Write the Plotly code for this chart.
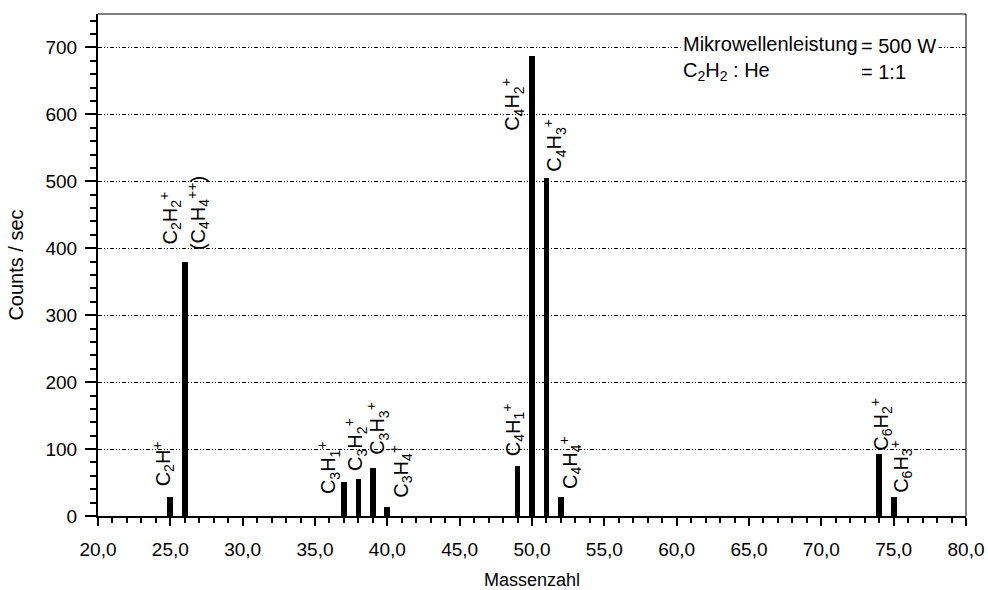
import plotly.graph_objects as go

# ---- data ----
masses = [25, 26, 37, 38, 39, 40, 49, 50, 51, 52, 74, 75]
counts = [29, 380, 51, 56, 72, 13, 74, 688, 505, 29, 92, 28]

label_text = [
    "C<sub>2</sub>H<sup>+</sup>",
    "C<sub>2</sub>H<sub>2</sub><sup>+</sup>",
    "(C<sub>4</sub>H<sub>4</sub><sup>++</sup>)",
    "C<sub>3</sub>H<sub>1</sub><sup>+</sup>",
    "C<sub>3</sub>H<sub>2</sub><sup>+</sup>",
    "C<sub>3</sub>H<sub>3</sub><sup>+</sup>",
    "C<sub>3</sub>H<sub>4</sub><sup>+</sup>",
    "C<sub>4</sub>H<sub>1</sub><sup>+</sup>",
    "C<sub>4</sub>H<sub>2</sub><sup>+</sup>",
    "C<sub>4</sub>H<sub>3</sub><sup>+</sup>",
    "C<sub>4</sub>H<sub>4</sub><sup>+</sup>",
    "C<sub>6</sub>H<sub>2</sub><sup>+</sup>",
    "C<sub>6</sub>H<sub>3</sub><sup>+</sup>",
]
label_x = [24.49, 24.98, 26.9, 35.9, 37.83, 39.35, 40.94, 48.68, 48.68, 51.58, 52.62, 74.18, 75.49]
label_y = [42, 402, 394, 29, 65, 89, 25, 87, 573, 512, 38, 95, 32]

info_left = "Mikrowellenleistung<br>C<sub>2</sub>H<sub>2</sub> : He"
info_right = "= 500 W<br>= 1:1"

x_range = [20, 80]
y_range = [0, 750]

FONT = "Liberation Sans, Arial, Helvetica, sans-serif"

fig = go.Figure()
fig.add_trace(go.Bar(x=masses, y=counts, width=0.4,
                     marker=dict(color="black", line=dict(width=0)),
                     showlegend=False))

for t, lx, ly in zip(label_text, label_x, label_y):
    fig.add_annotation(x=lx, y=ly, xref="x", yref="y", text=t, textangle=-90,
                       showarrow=False, xanchor="center", yanchor="bottom",
                       font=dict(family=FONT, size=20, color="black"))

fig.add_annotation(x=60.22, y=683, xref="x", yref="y", text=info_left,
                   showarrow=False, xanchor="left", yanchor="middle", align="left",
                   font=dict(family=FONT, size=20, color="black"),
                   bgcolor="white", borderpad=2)
fig.add_annotation(x=72.55, y=683, xref="x", yref="y", text=info_right,
                   showarrow=False, xanchor="left", yanchor="middle", align="left",
                   font=dict(family=FONT, size=20, color="black"),
                   bgcolor="white", borderpad=2)

fig.update_layout(
    width=988, height=590,
    margin=dict(l=98, r=22, t=14, b=74, autoexpand=False),
    plot_bgcolor="white", paper_bgcolor="white",
    separators=",.",
    font=dict(family=FONT, color="black"),
    bargap=0,
    shapes=[
        dict(type="line", xref="paper", yref="paper", x0=0, x1=1, y0=1, y1=1,
             line=dict(color="black", width=1)),
        dict(type="line", xref="paper", yref="paper", x0=1, x1=1, y0=0, y1=1,
             line=dict(color="black", width=1)),
    ],
)

fig.update_xaxes(
    range=x_range, tick0=20, dtick=5, tickformat=".1f",
    showgrid=False, zeroline=False, automargin=False,
    showline=True, linewidth=2, linecolor="black",
    ticks="outside", ticklen=8, tickwidth=2, tickcolor="black",
    ticklabelstandoff=7,
    minor=dict(dtick=1, ticks="outside", ticklen=5, tickwidth=1.5, tickcolor="black", showgrid=False),
    tickfont=dict(family=FONT, size=19, color="black"),
    title=dict(text="Massenzahl", font=dict(family=FONT, size=18, color="black"), standoff=16),
)
fig.update_yaxes(
    range=y_range, tick0=0, dtick=100,
    showgrid=True, gridcolor="black", gridwidth=0.8, griddash="4px,2px,1px,2px,1px,2px",
    zeroline=False, automargin=False,
    showline=True, linewidth=2, linecolor="black",
    ticks="outside", ticklen=11, tickwidth=2, tickcolor="black",
    ticklabelstandoff=4,
    minor=dict(dtick=20, ticks="outside", ticklen=6, tickwidth=1.5, tickcolor="black", showgrid=False),
    tickfont=dict(family=FONT, size=19, color="black"),
    title=dict(text="Counts / sec", font=dict(family=FONT, size=20, color="black"), standoff=16),
)

fig.write_html("out.html")
